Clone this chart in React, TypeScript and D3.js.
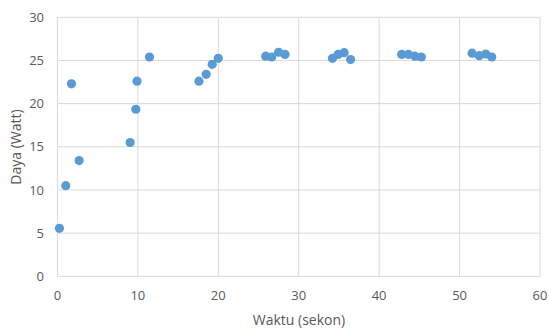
import React from "react";
import * as d3 from "d3";

const timeSec = [0.25, 1.04, 1.75, 2.7, 9.04, 9.75, 9.9, 11.45, 17.6, 18.5, 19.25, 20.0, 25.9, 26.65, 27.5, 28.3, 34.2, 34.9, 35.65, 36.45, 42.8, 43.65, 44.45, 45.25, 51.55, 52.45, 53.25, 54.0];
const powerWatt = [5.56, 10.5, 22.3, 13.4, 15.5, 19.35, 22.6, 25.4, 22.6, 23.4, 24.55, 25.25, 25.5, 25.4, 25.95, 25.7, 25.25, 25.7, 25.9, 25.1, 25.7, 25.7, 25.5, 25.4, 25.85, 25.55, 25.75, 25.4];
const xTicks = [0, 10, 20, 30, 40, 50, 60];
const yTicks = [0, 5, 10, 15, 20, 25, 30];
const xTitle = "Waktu (sekon)";
const yTitle = "Daya (Watt)";

export default function App() {
  const W = 549, H = 329;
  const x = d3.scaleLinear().domain([0, 60]).range([57.4, 540]);
  const y = d3.scaleLinear().domain([0, 30]).range([276.3, 17.3]);
  const font = "'Open Sans', 'Liberation Sans', sans-serif";
  const tc = "#595959";
  return (
    <svg width={W} height={H} style={{ position: "absolute", left: 0, top: 0, background: "#fff" }}>
      {yTicks.map((t) => (
        <line key={"gy" + t} x1={x(0)} x2={x(60)} y1={y(t)} y2={y(t)} stroke="#d9d9d9" strokeWidth={1} />
      ))}
      {xTicks.map((t) => (
        <line key={"gx" + t} x1={x(t)} x2={x(t)} y1={y(0)} y2={y(30)} stroke="#d9d9d9" strokeWidth={1} />
      ))}
      {yTicks.map((t) => (
        <text key={"ty" + t} x={44} y={y(t)} dy="0.35em" textAnchor="end" fontSize={13} fill={tc} fontFamily={font}>{t}</text>
      ))}
      {xTicks.map((t) => (
        <text key={"tx" + t} x={x(t)} y={295} dy="0.35em" textAnchor="middle" fontSize={13} fill={tc} fontFamily={font}>{t}</text>
      ))}
      {timeSec.map((t, i) => (
        <circle key={"p" + i} cx={x(t)} cy={y(powerWatt[i])} r={4.6} fill="#5b9bd5" />
      ))}
      <text x={299} y={320} dy="0.35em" textAnchor="middle" fontSize={14} fill={tc} fontFamily={font}>{xTitle}</text>
      <text transform={`translate(16,147) rotate(-90)`} textAnchor="middle" dy="0.35em" fontSize={14} fill={tc} fontFamily={font}>{yTitle}</text>
    </svg>
  );
}
